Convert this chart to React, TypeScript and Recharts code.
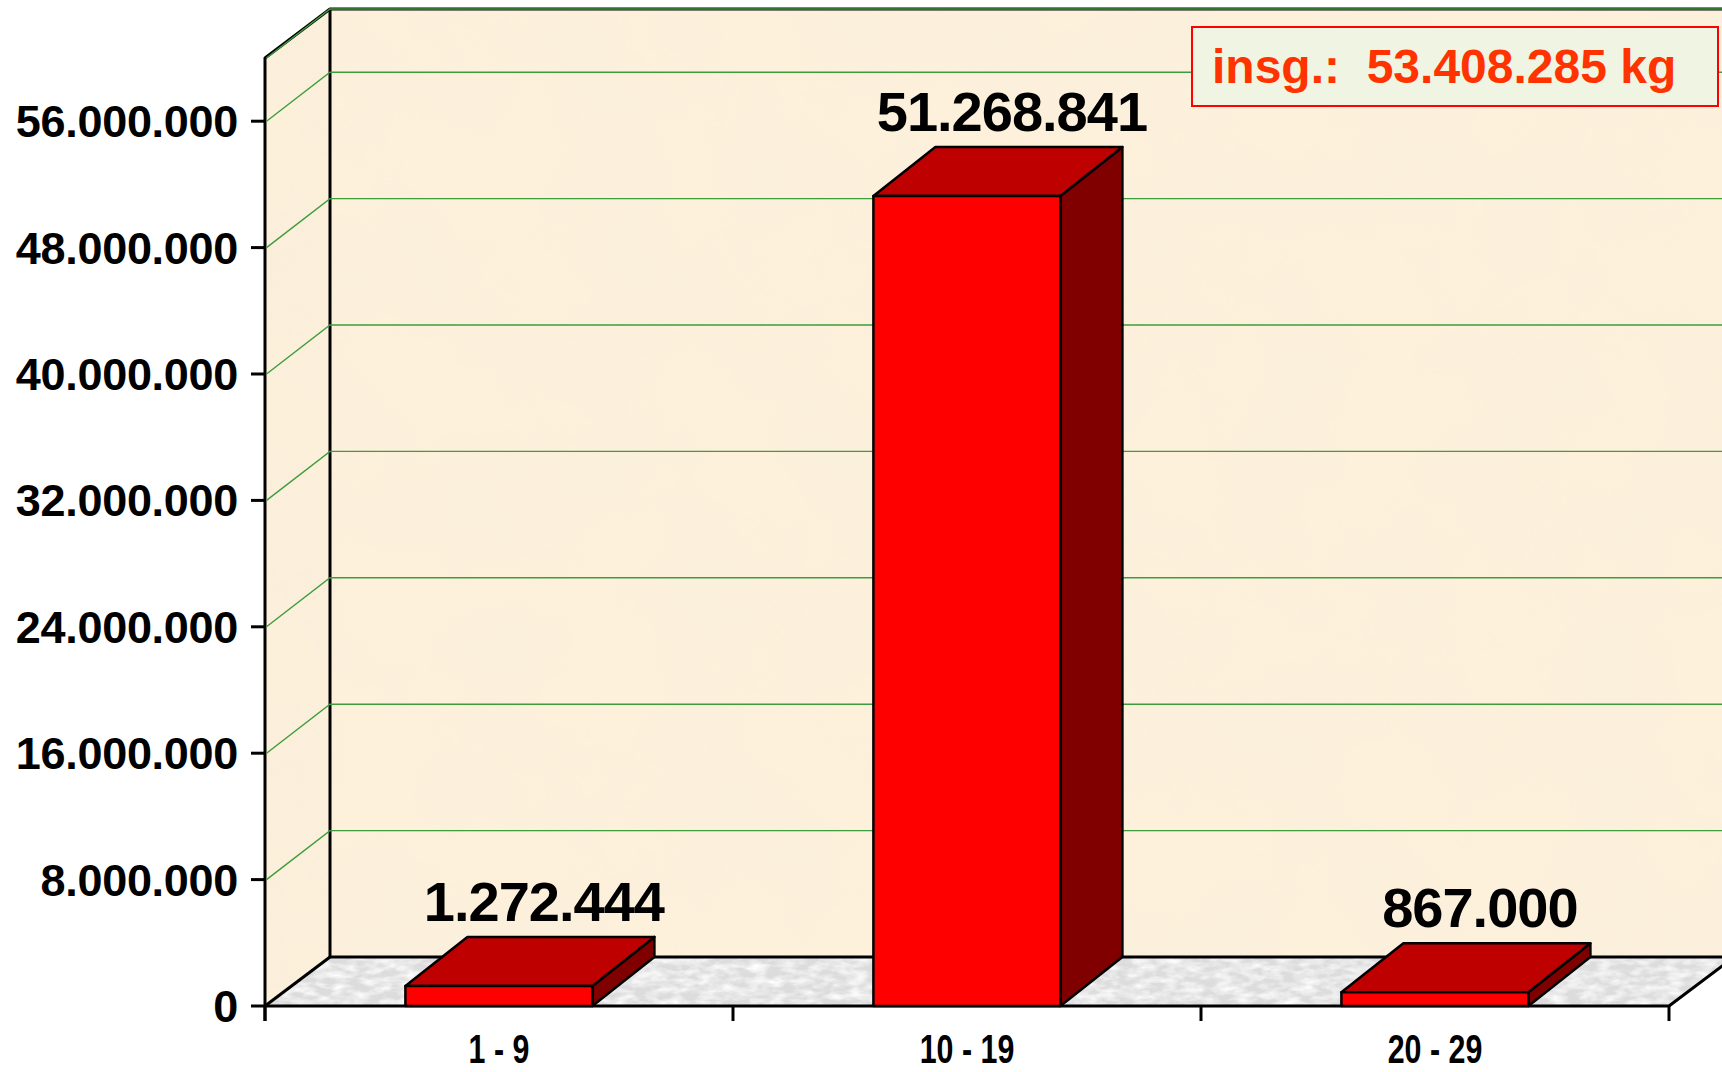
import React from 'react'
import { BarChart, Bar, XAxis, YAxis, CartesianGrid, LabelList } from 'recharts'

const categories = ['1 - 9', '10 - 19', '20 - 29']
const weights = [1272444, 51268841, 867000]
const yTicks = [0, 8000000, 16000000, 24000000, 32000000, 40000000, 48000000, 56000000]
const yMax = 60000000
const totalText = 'insg.:  53.408.285 kg'

const data = categories.map((range, i) => ({ range, weight: weights[i] }))

// layout
const W = 1722
const H = 1072
const LEFT = 265
const RIGHT = 1669
const TOP = 58
const BOTTOM = 1006
const DX = 65 // wall depth
const DY = 49
const BAR_DX = 62
const BAR_DY = 49
const BAND = (RIGHT - LEFT) / categories.length
const FONT = "'Liberation Sans', Arial, sans-serif"

const fmt = (v: number) => String(v).replace(/\B(?=(\d{3})+(?!\d))/g, '.')

const Bar3D = (props: any) => {
  const { x, y, width, height } = props
  if (width == null || height == null) return null
  const top = `${x},${y} ${x + BAR_DX},${y - BAR_DY} ${x + width + BAR_DX},${y - BAR_DY} ${x + width},${y}`
  const side = `${x + width},${y} ${x + width + BAR_DX},${y - BAR_DY} ${x + width + BAR_DX},${y + height - BAR_DY} ${x + width},${y + height}`
  return (
    <g stroke="#000" strokeWidth={2.5} strokeLinejoin="round">
      <polygon points={side} fill="#800000" />
      <polygon points={top} fill="#bf0000" />
      <rect x={x} y={y} width={width} height={height} fill="#ff0000" />
    </g>
  )
}

const ValueLabel = (props: any) => {
  const { x, y, width, value } = props
  return (
    <text
      x={x + width / 2 + 45}
      y={y - BAR_DY - 16}
      textAnchor="middle"
      fontFamily={FONT}
      fontWeight="bold"
      fontSize={56}
      letterSpacing={-1}
      fill="#000"
    >
      {fmt(value)}
    </text>
  )
}

const GridLine = (props: any) => {
  const { x1, y1, x2 } = props
  if (y1 > BOTTOM - 3) return <g />
  return (
    <polyline
      points={`${x1 + 1.5},${y1} ${x1 + DX},${y1 - DY} ${x2 + DX + 20},${y1 - DY}`}
      fill="none"
      stroke="#3d9d3d"
      strokeWidth={1.4}
    />
  )
}

const YTick = (props: any) => {
  const { y, payload } = props
  return (
    <g>
      <line x1={LEFT - 14} x2={LEFT} y1={y} y2={y} stroke="#000" strokeWidth={3} />
      <text
        x={LEFT - 27}
        y={y + 16}
        textAnchor="end"
        fontFamily={FONT}
        fontWeight="bold"
        fontSize={45}
        letterSpacing={-0.3}
        fill="#000"
      >
        {fmt(payload.value)}
      </text>
    </g>
  )
}

const XTick = (props: any) => {
  const { x, payload, index } = props
  return (
    <g>
      <line x1={x - BAND / 2} x2={x - BAND / 2} y1={BOTTOM} y2={BOTTOM + 15} stroke="#000" strokeWidth={3} />
      {index === categories.length - 1 && (
        <line x1={x + BAND / 2} x2={x + BAND / 2} y1={BOTTOM} y2={BOTTOM + 15} stroke="#000" strokeWidth={3} />
      )}
      <text
        transform={`translate(${x},${BOTTOM + 57}) scale(0.76,1)`}
        textAnchor="middle"
        fontFamily={FONT}
        fontWeight="bold"
        fontSize={40}
        fill="#000"
      >
        {payload.value}
      </text>
    </g>
  )
}

const Walls = () => (
  <svg width={W} height={H} style={{ position: 'absolute', left: 0, top: 0 }}>
    <defs>
      <filter id="paper" x="0" y="0" width="100%" height="100%">
        <feTurbulence type="fractalNoise" baseFrequency="0.009" numOctaves={4} seed={5} result="n" />
        <feColorMatrix
          in="n"
          type="matrix"
          values="0 0 0 0 0.93  0 0 0 0 0.86  0 0 0 0 0.72  0.8 0 0 0 -0.33"
          result="c"
        />
        <feComposite in="c" in2="SourceGraphic" operator="in" result="t" />
        <feMerge>
          <feMergeNode in="SourceGraphic" />
          <feMergeNode in="t" />
        </feMerge>
      </filter>
      <filter id="floor" x="0" y="0" width="100%" height="100%">
        <feTurbulence type="fractalNoise" baseFrequency="0.06 0.14" numOctaves={3} seed={2} result="n" />
        <feColorMatrix
          in="n"
          type="matrix"
          values="0 0 0 0 1  0 0 0 0 1  0 0 0 0 1  1.8 0 0 0 -0.6"
          result="c"
        />
        <feComposite in="c" in2="SourceGraphic" operator="in" result="t" />
        <feMerge>
          <feMergeNode in="SourceGraphic" />
          <feMergeNode in="t" />
        </feMerge>
      </filter>
    </defs>
    <polygon
      points={`${LEFT},${TOP} ${LEFT + DX},${TOP - DY} ${LEFT + DX},${BOTTOM - DY} ${LEFT},${BOTTOM}`}
      fill="#fcf0db"
      filter="url(#paper)"
    />
    <rect
      x={LEFT + DX}
      y={TOP - DY}
      width={RIGHT - LEFT + 10}
      height={BOTTOM - TOP}
      fill="#fdf1dc"
      filter="url(#paper)"
    />
    <polygon
      points={`${LEFT},${BOTTOM} ${LEFT + DX},${BOTTOM - DY} ${RIGHT + DX},${BOTTOM - DY} ${RIGHT},${BOTTOM}`}
      fill="#dcdcdc"
      filter="url(#floor)"
    />
    <g stroke="#000" strokeWidth={3} fill="none" strokeLinejoin="round">
      <polyline points={`${LEFT},${BOTTOM + 15} ${LEFT},${TOP} ${LEFT + DX},${TOP - DY} ${RIGHT + DX + 20},${TOP - DY}`} />
      <polyline points={`${LEFT + DX},${TOP - DY} ${LEFT + DX},${BOTTOM - DY} ${RIGHT + DX + 20},${BOTTOM - DY}`} />
      <line x1={LEFT} y1={BOTTOM} x2={LEFT + DX} y2={BOTTOM - DY} />
      <polyline points={`${LEFT},${BOTTOM} ${RIGHT},${BOTTOM} ${RIGHT + DX},${BOTTOM - DY}`} />
    </g>
  </svg>
)

export default function App() {
  return (
    <div style={{ position: 'absolute', left: 0, top: 0, width: W, height: H, background: '#fff', overflow: 'hidden' }}>
      <Walls />
      <div style={{ position: 'absolute', left: 0, top: 0 }}>
        <BarChart
          width={W}
          height={H}
          data={data}
          margin={{ top: TOP, right: W - RIGHT, bottom: 0, left: 0 }}
          barCategoryGap="30%"
        >
          <CartesianGrid vertical={false} horizontal={GridLine} fill="none" />
          <XAxis dataKey="range" axisLine={false} tickLine={false} tick={XTick} height={H - BOTTOM} interval={0} />
          <YAxis
            type="number"
            domain={[0, yMax]}
            ticks={yTicks}
            width={LEFT}
            axisLine={false}
            tickLine={false}
            tick={YTick}
            interval={0}
          />
          <Bar dataKey="weight" shape={Bar3D} isAnimationActive={false}>
            <LabelList dataKey="weight" content={ValueLabel} />
          </Bar>
        </BarChart>
      </div>
      <div
        style={{
          position: 'absolute',
          left: 1191,
          top: 26,
          width: 524,
          height: 77,
          border: '2px solid #ff0000',
          background: '#f0f4e3',
          boxSizing: 'content-box',
        }}
      >
        <div
          style={{
            position: 'absolute',
            left: 19,
            top: 12,
            whiteSpace: 'pre',
            fontFamily: FONT,
            fontWeight: 'bold',
            fontSize: 48,
            lineHeight: '54px',
            color: '#ff3300',
          }}
        >
          {totalText}
        </div>
      </div>
    </div>
  )
}
